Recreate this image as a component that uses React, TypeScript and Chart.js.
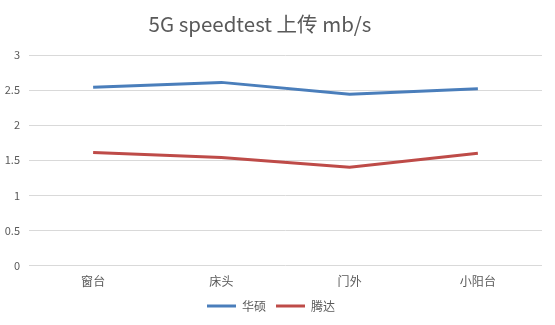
import React, { useEffect, useRef } from "react";
import { Chart, registerables } from "chart.js";

Chart.register(...registerables);

const categories = ["窗台", "床头", "门外", "小阳台"];
const asusValues = [2.54, 2.61, 2.44, 2.52];
const tendaValues = [1.61, 1.54, 1.4, 1.6];
const yTicks = [0, 0.5, 1, 1.5, 2, 2.5, 3];
const titleText = "5G speedtest 上传 mb/s";
const seriesNames = ["华硕", "腾达"];

const FONT = "'Noto Sans CJK SC', 'Open Sans', sans-serif";

const titlePlugin = {
  id: "offsetTitle",
  afterDraw(chart: any) {
    const ctx = chart.ctx;
    ctx.save();
    ctx.fillStyle = "#595959";
    ctx.font = `20.5px ${FONT}`;
    ctx.textAlign = "center";
    ctx.textBaseline = "middle";
    ctx.fillText(titleText, 260, 24);
    ctx.restore();
  },
};

export default function App() {
  const ref = useRef<HTMLCanvasElement>(null);
  useEffect(() => {
    document.body.style.margin = "0";
    const chart = new Chart(ref.current!, {
      type: "line",
      data: {
        labels: categories,
        datasets: [
          {
            label: seriesNames[0],
            data: asusValues,
            borderColor: "#4a7ebb",
            backgroundColor: "#4a7ebb",
            borderWidth: 3,
            pointRadius: 0,
            tension: 0,
          },
          {
            label: seriesNames[1],
            data: tendaValues,
            borderColor: "#be4b48",
            backgroundColor: "#be4b48",
            borderWidth: 3,
            pointRadius: 0,
            tension: 0,
          },
        ],
      },
      options: {
        animation: false,
        responsive: false,
        layout: { padding: { left: 0, right: 13, top: 55, bottom: 3 } },
        plugins: {
          title: { display: false },
          legend: {
            position: "bottom",
            labels: {
              usePointStyle: true,
              pointStyle: "line",
              pointStyleWidth: 29,
              color: "#595959",
              font: { family: FONT, size: 12 },
              padding: 10,
              boxHeight: 12,
            },
          },
          tooltip: { enabled: false },
        },
        scales: {
          x: {
            offset: true,
            grid: { display: false },
            border: { display: false },
            ticks: {
              color: "#595959",
              font: { family: FONT, size: 12 },
              padding: 1,
            },
          },
          y: {
            min: 0,
            max: 3,
            afterBuildTicks: (scale: any) => {
              scale.ticks = yTicks.map((v) => ({ value: v }));
            },
            afterFit: (scale: any) => {
              scale.width = 29;
            },
            grid: { color: "#d9d9d9", drawTicks: false, lineWidth: 1 },
            border: { display: false },
            ticks: {
              color: "#595959",
              font: { family: FONT, size: 11 },
              padding: 9,
              callback: (v: any) => String(v),
            },
          },
        },
      },
      plugins: [titlePlugin],
    });
    return () => chart.destroy();
  }, []);
  return (
    <div style={{ position: "absolute", left: 0, top: 0, width: 555, height: 325 }}>
      <canvas ref={ref} width={555} height={325} />
    </div>
  );
}
